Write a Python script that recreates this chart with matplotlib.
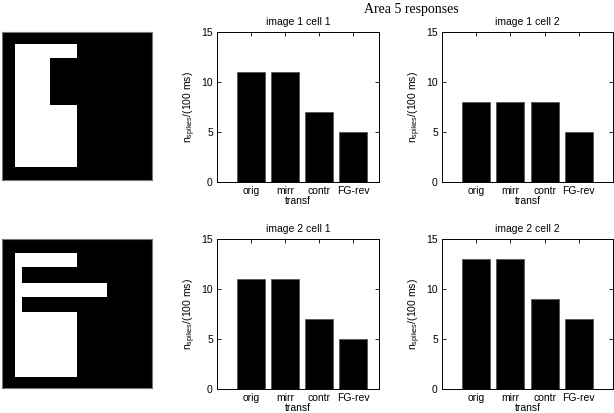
import numpy as np
import matplotlib
matplotlib.use('Agg')
import matplotlib.pyplot as plt

plt.rcParams['font.family'] = ['Liberation Sans', 'DejaVu Sans']
plt.rcParams['mathtext.fontset'] = 'custom'
plt.rcParams['mathtext.rm'] = 'Liberation Sans'
plt.rcParams['mathtext.it'] = 'Liberation Sans'

# bar data
transf = ['orig', 'mirr', 'contr', 'FG-rev']
img1_cell1 = [11, 11, 7, 5]
img1_cell2 = [8, 8, 8, 5]
img2_cell1 = [11, 11, 7, 5]
img2_cell2 = [13, 13, 9, 7]

# stimulus images: (x0, x1, y0, y1, value) on a 150x148 pixel grid, 1 = white
img1_rects = [(13, 75, 13, 135, 1), (48, 75, 27, 74, 0)]
img2_rects = [(13, 75, 14, 137, 1), (20, 75, 28, 44, 0),
              (13, 105, 44, 58, 1), (20, 75, 58, 73, 0)]


def make_image(rects):
    im = np.zeros((148, 150))
    for x0, x1, y0, y1, v in rects:
        im[y0:y1, x0:x1] = v
    return im


W, H = 614, 413
fig = plt.figure(figsize=(W / 100, H / 100), dpi=100)


def pos(x0, y0, x1, y1):
    return [x0 / W, 1 - y1 / H, (x1 - x0) / W, (y1 - y0) / H]


def draw_image(rect, rects):
    ax = fig.add_axes(pos(*rect))
    ax.imshow(make_image(rects), cmap='gray', vmin=0, vmax=1,
              aspect='auto', interpolation='nearest')
    ax.set_xticks([])
    ax.set_yticks([])
    for s in ax.spines.values():
        s.set_color('#777777')
        s.set_linewidth(0.8)


def draw_bars(rect, vals, title, xmax):
    ax = fig.add_axes(pos(*rect))
    x = np.arange(1, len(vals) + 1)
    ax.bar(x, vals, width=0.82, color='black', edgecolor='#555555', linewidth=0.6)
    ax.set_xlim(0, xmax)
    ax.set_ylim(0, 15)
    ax.set_xticks(x)
    ax.set_xticklabels(transf)
    ax.set_yticks([0, 5, 10, 15])
    ax.tick_params(direction='in', length=3, width=0.6, top=True, right=True,
                   labelsize=7.5, pad=3)
    for s in ax.spines.values():
        s.set_linewidth(0.7)
    ax.set_title(title, fontsize=7.5, pad=5)
    ax.set_xlabel('transf', fontsize=7.5, labelpad=0)
    ax.set_ylabel(r'n$_{\mathrm{spikes}}$/(100 ms)', fontsize=7.5, labelpad=2)


draw_image((2, 32, 152, 180), img1_rects)
draw_image((2, 239, 152, 388), img2_rects)

draw_bars((217, 32, 379, 182), img1_cell1, 'image 1 cell 1', 4.75)
draw_bars((442, 32, 613, 182), img1_cell2, 'image 1 cell 2', 5.0)
draw_bars((217, 239, 379, 389), img2_cell1, 'image 2 cell 1', 4.75)
draw_bars((442, 239, 613, 389), img2_cell2, 'image 2 cell 2', 5.0)

fig.text(411 / W, 1 - 9 / H, 'Area 5 responses', family='Liberation Serif',
         fontsize=10, ha='center', va='center')

fig.savefig('out.png', dpi=100)
